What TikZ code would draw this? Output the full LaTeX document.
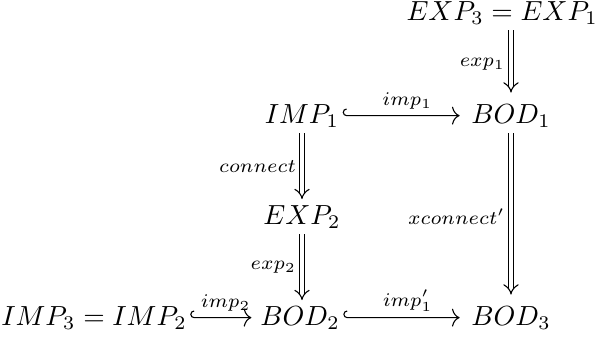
\documentclass[tikz,border=0pt]{standalone}
\usetikzlibrary{arrows.meta}
\begin{document}
\begin{tikzpicture}[x=0.362pt,y=-0.362pt,
  obj/.style={anchor=base,inner xsep=1pt,inner ysep=2pt},
  lab/.style={font=\scriptsize,inner sep=2pt},
  dbl/.style={double equal sign distance,-{Implies}},
  hk/.style={-{To[length=2.8pt,width=6.5pt]}},
]
\useasboundingbox (0,0) rectangle (602,338);
\node[obj,anchor=base east] (E31) at (601,20) {$EXP_3 = EXP_1$};
\node[obj] (I1) at (302,123) {$IMP_1$};
\node[obj] (B1) at (511,123) {$BOD_1$};
\node[obj] (E2) at (302,224) {$EXP_2$};
\node[obj] (I32) at (94,325) {$IMP_3 = IMP_2$};
\node[obj] (B2) at (300,325) {$BOD_2$};
\node[obj] (B3) at (511,325) {$BOD_3$};
\draw[dbl,shorten >=2pt] (B1 |- E31.south) -- node[lab,left] {$exp_1$} (B1.north);
\draw[hk,shorten >=3pt] ([xshift=1.5pt,yshift=2.4pt]I1.east) arc[start angle=90,end angle=270,radius=1.2pt] -- node[lab,above] {$imp_1$} (B1.west);
\draw[dbl] (I1.south) -- node[lab,left] {$connect$} (E2.north);
\draw[dbl] (E2.south) -- node[lab,left] {$exp_2$} (B2.north -| E2);
\draw[dbl,shorten >=2pt] (B1.south) -- node[lab,left] {$xconnect'$} (B3.north);
\draw[hk,shorten >=2pt] ([xshift=1.5pt,yshift=2.4pt]I32.east) arc[start angle=90,end angle=270,radius=1.2pt] -- node[lab,above] {$imp_2$} (B2.west);
\draw[hk,shorten >=3pt] ([xshift=1.5pt,yshift=2.4pt]B2.east) arc[start angle=90,end angle=270,radius=1.2pt] -- node[lab,above] {$imp'_1$} (B3.west);
\end{tikzpicture}
\end{document}
